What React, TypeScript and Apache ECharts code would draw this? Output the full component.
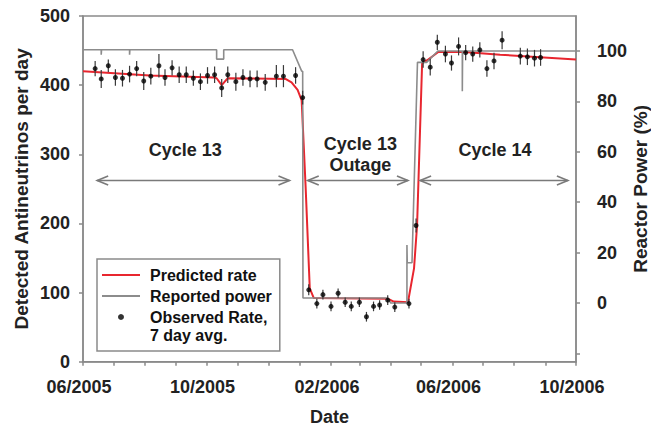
import React, { useEffect, useRef } from 'react';
import * as echarts from 'echarts';

// x values are days counted from 2005-06-01
const monthTickDays = [0, 30, 61, 92, 122, 153, 183, 214, 245, 273, 304, 334, 365, 395, 426, 457, 487];
const xLabelDays = [0, 122, 245, 365, 487];
const xLabels = ['06/2005', '10/2005', '02/2006', '06/2006', '10/2006'];

const powerLabelValues = [0, 20, 40, 60, 80, 100];
const powerTickValues = [-20, 0, 20, 40, 60, 80, 100];

// Observed rate, 7 day averages
const obsDays = [
  12, 18, 25, 32, 39, 46, 53, 60, 67, 75, 81, 88, 95, 102, 109, 116, 123, 130, 137, 143, 151, 158, 165, 172, 180, 191, 198, 210, 217,
  223, 231, 237, 245, 252, 259, 265, 273, 280, 287, 293, 301, 308, 322, 329,
  336, 343, 350, 358, 364, 371, 378, 385, 392, 399, 406, 414, 432, 439, 446, 452,
];
const obsRate = [
  424, 409, 428, 411, 410, 416, 424, 406, 413, 428, 411, 425, 415, 415, 410, 405, 414, 415, 396, 415, 405, 411, 409, 409, 404, 413, 413, 414, 382,
  104, 84, 97, 80, 99, 86, 80, 86, 65, 80, 82, 89, 79, 84, 197,
  437, 426, 462, 445, 432, 456, 447, 445, 451, 424, 435, 465, 442, 441, 439, 440,
];
const obsErr = [
  11, 13, 9, 12, 12, 12, 11, 13, 12, 17, 12, 11, 12, 12, 11, 12, 12, 12, 13, 12, 13, 12, 12, 12, 12, 16, 16, 12, 10,
  8, 7, 7, 7, 7, 7, 7, 7, 7, 7, 7, 7, 7, 7, 10,
  12, 12, 11, 12, 11, 13, 11, 11, 11, 12, 12, 13, 12, 12, 12, 12,
];

// Predicted rate
const predDays = [0, 66, 129, 132, 137, 143, 200, 206, 212, 216, 220, 224, 228, 301, 307, 321, 327, 330, 335, 340, 351, 377, 412, 487];
const predRate = [420, 414, 411, 410, 400, 410, 409, 404, 393, 378, 250, 106, 92, 91, 87, 86, 135, 197, 432, 436, 448, 448, 444, 437];

// Reported reactor power (%)
const powerDays = [
  0, 18, 18, 18.3, 46, 46, 46.3, 132, 132, 139, 139, 207, 216, 217, 217.3, 301, 304, 320, 320, 320.3, 325, 330.4, 339.5, 350.5,
  374.7, 374.7, 375, 487,
];
const powerPct = [
  100.5, 100.5, 98.5, 100.5, 100.5, 98.5, 100.5, 100.5, 96.8, 96.8, 100.5, 100.5, 92, 92, 2, 2, 0, 0, 23, 16, 16, 95.5, 95.5, 100,
  100, 84, 100, 100,
];

// Cycle annotations
const cycleNames = ['Cycle 13', 'Cycle 13\nOutage', 'Cycle 14'];
const cycleStartDays = [14, 222, 333];
const cycleEndDays = [204, 321, 479];
const cycleArrowRate = 262;
const cycleLabelDays = [101, 274, 407];
const cycleLabelRate = [306, 299, 306];

const FONT = '"Liberation Sans", Arial, sans-serif';

export default function App() {
  const ref = useRef<HTMLDivElement>(null);

  useEffect(() => {
    document.body.style.margin = '0';
    if (!ref.current) return;
    const chart = echarts.init(ref.current, undefined, { renderer: 'svg' });

    const axisLineStyle = { color: '#8a8a8a', width: 1.5 };
    const labelStyle = { fontFamily: FONT, fontWeight: 'bold' as const, fontSize: 18, color: '#222' };
    const titleStyle = { fontFamily: FONT, fontWeight: 'bold' as const, fontSize: 19, lineHeight: 18, color: '#222' };

    const option: any = {
      animation: false,
      backgroundColor: '#fff',
      grid: {
        left: 83,
        right: 75,
        top: 16,
        bottom: 64.3,
        show: true,
        borderColor: '#8a8a8a',
        borderWidth: 1.5,
        containLabel: false,
        outerBoundsMode: 'none',
      },
      legend: {
        data: [
          { name: 'Predicted rate', itemStyle: { opacity: 0 } },
          { name: 'Reported power', itemStyle: { opacity: 0 } },
          { name: 'Observed Rate,' },
        ],
        orient: 'vertical',
        left: 97,
        top: 259,
        itemWidth: 38,
        itemHeight: 6,
        itemGap: 1,
        padding: [6, 8, 24, 4],
        borderColor: '#8a8a8a',
        borderWidth: 1.5,
        backgroundColor: '#fff',
        selectedMode: false,
        textStyle: { fontFamily: FONT, fontWeight: 'bold', fontSize: 16, color: '#111', lineHeight: 20, padding: [0, 0, 0, 5] },
      },
      graphic: [
        {
          type: 'text',
          left: 150,
          top: 327,
          z: 100,
          style: { text: '7 day avg.', fontFamily: FONT, fontWeight: 'bold', fontSize: 16, fill: '#111' },
        },
      ],
      xAxis: {
        type: 'value',
        min: 0,
        max: 487,
        name: 'Date',
        nameLocation: 'middle',
        nameGap: 46,
        nameMoveOverlap: false,
        nameTextStyle: { ...titleStyle, fontSize: 18 },
        axisLine: { lineStyle: axisLineStyle },
        axisTick: { show: true, length: 4, customValues: monthTickDays, lineStyle: axisLineStyle },
        axisLabel: {
          ...labelStyle,
          margin: 16,
          padding: [0, 8, 0, 0],
          customValues: xLabelDays,
          formatter: (v: number) => {
            const i = xLabelDays.indexOf(Math.round(v));
            return i >= 0 ? xLabels[i] : '';
          },
        },
        splitLine: { show: false },
      },
      yAxis: [
        {
          type: 'value',
          min: 0,
          max: 500,
          interval: 100,
          name: 'Detected Antineutrinos per day',
          nameLocation: 'middle',
          nameRotate: 90,
          nameGap: 53,
          nameMoveOverlap: false,
          nameTextStyle: titleStyle,
          axisLine: { show: true, lineStyle: axisLineStyle },
          axisTick: { show: true, length: 4, lineStyle: axisLineStyle },
          axisLabel: { ...labelStyle, margin: 13 },
          splitLine: { show: false },
        },
        {
          type: 'value',
          position: 'right',
          min: -23.3,
          max: 113.9,
          name: 'Reactor Power (%)',
          nameLocation: 'middle',
          nameRotate: 90,
          nameGap: 55,
          nameMoveOverlap: false,
          nameTextStyle: titleStyle,
          axisLine: { show: true, lineStyle: axisLineStyle },
          axisTick: { show: true, length: 4, customValues: powerTickValues, lineStyle: axisLineStyle },
          axisLabel: { ...labelStyle, margin: 21, customValues: powerLabelValues },
          splitLine: { show: false },
        },
      ],
      series: [
        {
          name: 'Predicted rate',
          type: 'line',
          yAxisIndex: 0,
          symbol: 'none',
          showSymbol: false,
          data: predDays.map((d, i) => [d, predRate[i]]),
          lineStyle: { color: '#e8262f', width: 2 },
          itemStyle: { color: '#e8262f' },
          z: 2,
        },
        {
          name: 'Reported power',
          type: 'line',
          yAxisIndex: 1,
          symbol: 'none',
          showSymbol: false,
          data: powerDays.map((d, i) => [d, powerPct[i]]),
          lineStyle: { color: '#8c8c8c', width: 1.6 },
          itemStyle: { color: '#8c8c8c' },
          z: 3,
        },
        {
          name: 'errors',
          type: 'custom',
          yAxisIndex: 0,
          silent: true,
          z: 4,
          encode: { x: 0, y: [1, 2] },
          data: obsDays.map((d, i) => [d, obsRate[i] - obsErr[i], obsRate[i] + obsErr[i]]),
          renderItem: (params: any, api: any) => {
            const a = api.coord([api.value(0), api.value(1)]);
            const b = api.coord([api.value(0), api.value(2)]);
            return {
              type: 'line',
              shape: { x1: a[0], y1: a[1], x2: b[0], y2: b[1] },
              style: { stroke: '#3a3a3a', lineWidth: 1.2 },
            };
          },
        },
        {
          name: 'Observed Rate,',
          type: 'scatter',
          yAxisIndex: 0,
          symbol: 'circle',
          symbolSize: 5,
          data: obsDays.map((d, i) => [d, obsRate[i]]),
          itemStyle: { color: '#000' },
          z: 5,
        },
        {
          name: 'arrows',
          type: 'custom',
          yAxisIndex: 0,
          silent: true,
          z: 4,
          encode: { x: [0, 1], y: 2 },
          data: cycleStartDays.map((s, i) => [s, cycleEndDays[i], cycleArrowRate]),
          renderItem: (params: any, api: any) => {
            const p1 = api.coord([api.value(0), api.value(2)]);
            const p2 = api.coord([api.value(1), api.value(2)]);
            const h = 11;
            const w = 4.5;
            const st = { stroke: '#7a7a7a', lineWidth: 1.6, fill: 'none' };
            return {
              type: 'group',
              children: [
                { type: 'line', shape: { x1: p1[0], y1: p1[1], x2: p2[0], y2: p2[1] }, style: st },
                {
                  type: 'polyline',
                  shape: { points: [[p1[0] + h, p1[1] - w], [p1[0], p1[1]], [p1[0] + h, p1[1] + w]] },
                  style: st,
                },
                {
                  type: 'polyline',
                  shape: { points: [[p2[0] - h, p2[1] - w], [p2[0], p2[1]], [p2[0] - h, p2[1] + w]] },
                  style: st,
                },
              ],
            };
          },
        },
        {
          name: 'cycleLabels',
          type: 'custom',
          yAxisIndex: 0,
          silent: true,
          z: 6,
          encode: { x: 0, y: 1 },
          data: cycleLabelDays.map((d, i) => [d, cycleLabelRate[i]]),
          renderItem: (params: any, api: any) => {
            const p = api.coord([api.value(0), api.value(1)]);
            return {
              type: 'text',
              x: p[0],
              y: p[1],
              style: {
                text: cycleNames[params.dataIndex],
                fontFamily: FONT,
                fontWeight: 'bold',
                fontSize: 18,
                lineHeight: 21,
                fill: '#222',
                align: 'center',
                verticalAlign: 'middle',
              },
            };
          },
        },
      ],
    };

    chart.setOption(option);
    return () => chart.dispose();
  }, []);

  return <div ref={ref} style={{ width: 651, height: 426 }} />;
}
